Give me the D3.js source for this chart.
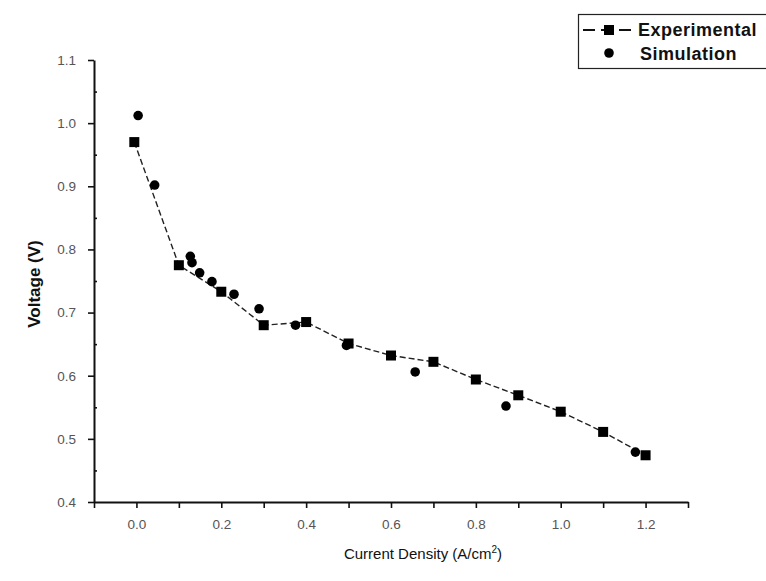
<!DOCTYPE html>
<html>
<head>
<meta charset="utf-8">
<script src="https://cdn.jsdelivr.net/npm/d3@7"></script>
<style>
  body { margin: 0; background: #fff; }
  svg { display: block; font-family: Arial, "Liberation Sans", sans-serif; }
</style>
</head>
<body>
<svg id="chart" width="766" height="581"></svg>
<script>
// Experimental polarisation curve
const expCurrent = [-0.005, 0.1, 0.2, 0.3, 0.4, 0.5, 0.6, 0.7, 0.8, 0.9, 1.0, 1.1, 1.2];
const expVoltage = [0.970, 0.775, 0.733, 0.680, 0.685, 0.651, 0.632, 0.622, 0.594, 0.569, 0.543, 0.511, 0.474];

// Simulation points
const simCurrent = [0.004, 0.043, 0.127, 0.131, 0.149, 0.178, 0.230, 0.289, 0.375, 0.495, 0.657, 0.871, 1.176];
const simVoltage = [1.012, 0.902, 0.789, 0.779, 0.763, 0.749, 0.729, 0.706, 0.680, 0.648, 0.606, 0.552, 0.479];

const xTicks = [-0.1, 0, 0.1, 0.2, 0.3, 0.4, 0.5, 0.6, 0.7, 0.8, 0.9, 1.0, 1.1, 1.2, 1.3];
const xLabelTicks = [0, 0.2, 0.4, 0.6, 0.8, 1.0, 1.2];
const yTicks = [0.4, 0.5, 0.6, 0.7, 0.8, 0.9, 1.0, 1.1];
const yMinorTicks = [0.45, 0.55, 0.65, 0.75, 0.85, 0.95, 1.05];

const svg = d3.select('#chart');

const x = d3.scaleLinear().domain([-0.1, 1.3]).range([94, 688]);
const y = d3.scaleLinear().domain([0.4, 1.1]).range([502, 60]);

const expData = expCurrent.map((c, i) => ({ c: c, v: expVoltage[i] }));
const simData = simCurrent.map((c, i) => ({ c: c, v: simVoltage[i] }));

// x axis: all ticks pointing down, labels every 0.2
const xAxis = svg.append('g')
    .attr('transform', `translate(0,${y(0.4)})`)
    .call(d3.axisBottom(x).tickValues(xTicks).tickSize(6).tickSizeOuter(0)
        .tickFormat(d => xLabelTicks.some(t => Math.abs(t - d) < 1e-9) ? d3.format('.1f')(d) : ''));

// y axis: major ticks outside, minor inside
const yAxis = svg.append('g')
    .attr('transform', `translate(${x(-0.1)},0)`)
    .call(d3.axisLeft(y).tickValues(yTicks).tickSize(6).tickSizeOuter(0).tickFormat(d3.format('.1f')));

svg.append('g')
    .attr('transform', `translate(${x(-0.1)},0)`)
    .call(d3.axisRight(y).tickValues(yMinorTicks).tickSize(3).tickFormat(''))
    .call(g => g.select('.domain').remove());

svg.selectAll('.domain').attr('stroke', '#111').attr('stroke-width', 2);
svg.selectAll('.tick line').attr('stroke', '#111').attr('stroke-width', 1.6);
svg.selectAll('.tick text').attr('fill', '#555').style('font-size', '13.5px');
xAxis.selectAll('.tick text').attr('dy', '1.3em');
yAxis.selectAll('.tick text').attr('x', -18);

// axis titles
svg.append('text')
    .attr('transform', `translate(40,${(y(0.4) + y(1.1)) / 2 + 3}) rotate(-90)`)
    .attr('text-anchor', 'middle')
    .style('font-size', '17px')
    .style('font-weight', 'bold')
    .attr('fill', '#111')
    .text('Voltage (V)');

const xTitle = svg.append('text')
    .attr('x', 423)
    .attr('y', 559)
    .attr('text-anchor', 'middle')
    .style('font-size', '15px')
    .attr('fill', '#111');
xTitle.append('tspan').text('Current Density (A/cm');
xTitle.append('tspan').attr('dy', -6).style('font-size', '10px').text('2');
xTitle.append('tspan').attr('dy', 6).text(')');

// experimental dashed line
const line = d3.line().x(d => x(d.c)).y(d => y(d.v));
svg.append('path')
    .datum(expData)
    .attr('d', line)
    .attr('fill', 'none')
    .attr('stroke', '#222')
    .attr('stroke-width', 1.4)
    .attr('stroke-dasharray', '6,3');

const sq = 10;
svg.append('g').selectAll('rect')
    .data(expData)
    .join('rect')
    .attr('x', d => x(d.c) - sq / 2)
    .attr('y', d => y(d.v) - sq / 2)
    .attr('width', sq)
    .attr('height', sq)
    .attr('fill', '#000');

svg.append('g').selectAll('circle')
    .data(simData)
    .join('circle')
    .attr('cx', d => x(d.c))
    .attr('cy', d => y(d.v))
    .attr('r', 4.8)
    .attr('fill', '#000');

// legend
const legend = svg.append('g');
legend.append('rect')
    .attr('x', 578.5).attr('y', 14.5)
    .attr('width', 200).attr('height', 54)
    .attr('fill', '#fff')
    .attr('stroke', '#222')
    .attr('stroke-width', 1.2);
legend.append('line')
    .attr('x1', 583).attr('x2', 633).attr('y1', 30).attr('y2', 30)
    .attr('stroke', '#111').attr('stroke-width', 2)
    .attr('stroke-dasharray', '12,6');
legend.append('rect')
    .attr('x', 609 - sq / 2).attr('y', 30 - sq / 2)
    .attr('width', sq).attr('height', sq).attr('fill', '#000');
legend.append('circle')
    .attr('cx', 609).attr('cy', 53).attr('r', 4.8).attr('fill', '#000');
legend.append('text')
    .attr('x', 638).attr('y', 36)
    .style('font-size', '18px').style('font-weight', 'bold')
    .style('letter-spacing', '0.5px')
    .attr('fill', '#111')
    .text('Experimental');
legend.append('text')
    .attr('x', 640).attr('y', 60)
    .style('font-size', '18px').style('font-weight', 'bold')
    .style('letter-spacing', '0.5px')
    .attr('fill', '#111')
    .text('Simulation');
</script>
</body>
</html>
